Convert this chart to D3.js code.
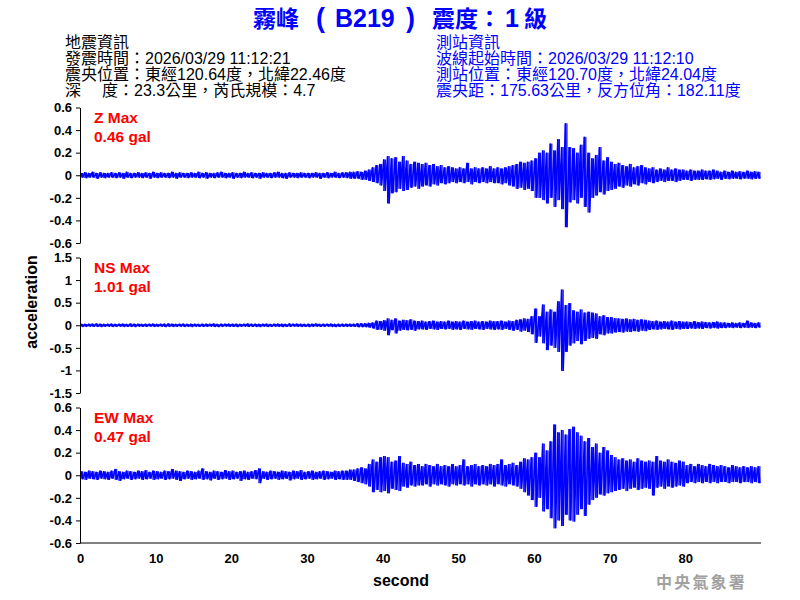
<!DOCTYPE html>
<html><head><meta charset="utf-8">
<script src="https://cdn.jsdelivr.net/npm/d3@7"></script>
<style>body{margin:0;background:#fff}svg{display:block}</style>
</head><body>
<svg id="c" width="800" height="600"></svg>
<script>
// ---------------- DATA ----------------
const binSeconds = 0.5;          // each value = peak in a 0.5 s window
const xTicks = [0,10,20,30,40,50,60,70,80];
const xDomain = [0,90];
const channels = ["Z","NS","EW"];
const maxLabels = ["0.46 gal","1.01 gal","0.47 gal"];
const yLimits = [0.6,1.5,0.6];
const zTicks = [0.6,0.4,0.2,0,-0.2,-0.4,-0.6];
const nsTicks = [1.5,1,0.5,0,-0.5,-1,-1.5];
const ewTicks = [0.6,0.4,0.2,0,-0.2,-0.4,-0.6];

const zHi = [
0.02,0.025,0.02,0.03,0.02,0.025,0.02,0.02,0.025,0.02,
0.025,0.02,0.03,0.02,0.02,0.025,0.02,0.025,0.02,0.03,
0.02,0.025,0.02,0.02,0.03,0.02,0.025,0.02,0.02,0.025,
0.02,0.03,0.02,0.025,0.02,0.02,0.025,0.03,0.02,0.02,
0.025,0.02,0.02,0.03,0.02,0.025,0.02,0.02,0.025,0.02,
0.02,0.025,0.03,0.02,0.02,0.025,0.02,0.02,0.025,0.02,
0.02,0.02,0.025,0.02,0.02,0.025,0.02,0.03,0.02,0.025,
0.025,0.03,0.03,0.035,0.03,0.04,0.05,0.07,0.09,0.1,
0.14,0.17,0.15,0.16,0.12,0.17,0.13,0.1,0.12,0.11,
0.1,0.11,0.09,0.1,0.08,0.09,0.07,0.08,0.07,0.06,
0.07,0.06,0.11,0.06,0.07,0.06,0.07,0.06,0.08,0.06,
0.07,0.06,0.07,0.08,0.09,0.1,0.12,0.11,0.12,0.13,
0.15,0.2,0.22,0.2,0.28,0.22,0.32,0.25,0.46,0.25,
0.24,0.2,0.27,0.34,0.2,0.15,0.18,0.25,0.13,0.16,
0.12,0.1,0.11,0.09,0.08,0.1,0.07,0.08,0.09,0.07,
0.06,0.07,0.05,0.06,0.05,0.07,0.05,0.06,0.05,0.05,
0.04,0.05,0.04,0.04,0.05,0.04,0.04,0.05,0.04,0.03,
0.04,0.03,0.04,0.03,0.035,0.03,0.04,0.03,0.035,0.03];
const zLo = [
-0.02,-0.025,-0.02,-0.02,-0.03,-0.02,-0.025,-0.02,-0.02,-0.025,
-0.02,-0.03,-0.02,-0.025,-0.02,-0.02,-0.025,-0.02,-0.03,-0.02,
-0.025,-0.02,-0.02,-0.025,-0.02,-0.03,-0.02,-0.02,-0.025,-0.02,
-0.02,-0.025,-0.02,-0.03,-0.02,-0.025,-0.02,-0.02,-0.025,-0.02,
-0.03,-0.02,-0.025,-0.02,-0.02,-0.025,-0.02,-0.03,-0.02,-0.02,
-0.025,-0.02,-0.02,-0.025,-0.03,-0.02,-0.02,-0.025,-0.02,-0.02,
-0.025,-0.02,-0.02,-0.03,-0.02,-0.025,-0.02,-0.02,-0.025,-0.02,
-0.025,-0.03,-0.03,-0.03,-0.04,-0.04,-0.05,-0.06,-0.07,-0.09,
-0.14,-0.25,-0.16,-0.15,-0.12,-0.14,-0.13,-0.11,-0.1,-0.12,
-0.1,-0.09,-0.1,-0.08,-0.09,-0.07,-0.08,-0.07,-0.06,-0.07,
-0.06,-0.07,-0.06,-0.08,-0.06,-0.07,-0.06,-0.07,-0.06,-0.07,
-0.07,-0.08,-0.07,-0.09,-0.1,-0.12,-0.11,-0.13,-0.12,-0.14,
-0.2,-0.2,-0.22,-0.25,-0.2,-0.28,-0.22,-0.3,-0.46,-0.24,
-0.22,-0.25,-0.2,-0.28,-0.33,-0.2,-0.18,-0.15,-0.17,-0.14,
-0.13,-0.12,-0.1,-0.11,-0.09,-0.1,-0.08,-0.09,-0.07,-0.08,
-0.06,-0.07,-0.06,-0.05,-0.06,-0.05,-0.05,-0.06,-0.05,-0.04,
-0.04,-0.05,-0.04,-0.04,-0.04,-0.035,-0.04,-0.035,-0.03,-0.04,
-0.03,-0.035,-0.03,-0.03,-0.035,-0.03,-0.03,-0.035,-0.03,-0.03];

const nsHi = [
0.03,0.025,0.03,0.03,0.035,0.03,0.025,0.03,0.03,0.025,
0.03,0.03,0.025,0.035,0.03,0.03,0.025,0.03,0.03,0.03,
0.025,0.03,0.03,0.035,0.03,0.025,0.03,0.03,0.025,0.03,
0.03,0.025,0.03,0.03,0.03,0.035,0.025,0.03,0.03,0.03,
0.03,0.03,0.025,0.03,0.035,0.03,0.03,0.025,0.03,0.03,
0.025,0.03,0.03,0.03,0.025,0.035,0.03,0.03,0.03,0.025,
0.03,0.03,0.035,0.025,0.03,0.03,0.03,0.025,0.03,0.03,
0.03,0.03,0.03,0.04,0.04,0.04,0.05,0.06,0.1,0.09,
0.11,0.15,0.12,0.15,0.1,0.12,0.11,0.13,0.1,0.09,
0.1,0.08,0.09,0.1,0.08,0.09,0.08,0.1,0.08,0.09,
0.08,0.1,0.08,0.09,0.1,0.08,0.09,0.08,0.1,0.09,
0.09,0.1,0.08,0.1,0.09,0.12,0.13,0.15,0.14,0.2,
0.37,0.2,0.46,0.3,0.35,0.3,0.53,0.79,0.45,0.49,
0.33,0.3,0.35,0.28,0.3,0.28,0.26,0.2,0.22,0.18,
0.18,0.16,0.15,0.14,0.15,0.13,0.14,0.12,0.13,0.12,
0.1,0.09,0.1,0.08,0.09,0.08,0.1,0.08,0.09,0.08,
0.08,0.07,0.09,0.07,0.08,0.07,0.06,0.07,0.08,0.06,
0.06,0.05,0.06,0.05,0.06,0.05,0.1,0.06,0.05,0.06];
const nsLo = [
-0.03,-0.03,-0.025,-0.03,-0.03,-0.035,-0.03,-0.025,-0.03,-0.03,
-0.025,-0.03,-0.03,-0.03,-0.035,-0.025,-0.03,-0.03,-0.025,-0.03,
-0.03,-0.025,-0.035,-0.03,-0.03,-0.03,-0.025,-0.03,-0.03,-0.035,
-0.025,-0.03,-0.03,-0.03,-0.025,-0.03,-0.035,-0.03,-0.025,-0.03,
-0.03,-0.035,-0.03,-0.025,-0.03,-0.03,-0.03,-0.035,-0.025,-0.03,
-0.03,-0.025,-0.03,-0.035,-0.03,-0.03,-0.025,-0.03,-0.03,-0.03,
-0.035,-0.03,-0.025,-0.03,-0.03,-0.025,-0.03,-0.035,-0.03,-0.03,
-0.03,-0.03,-0.03,-0.04,-0.04,-0.04,-0.05,-0.07,-0.1,-0.1,
-0.12,-0.22,-0.11,-0.18,-0.12,-0.1,-0.11,-0.1,-0.12,-0.09,
-0.09,-0.1,-0.08,-0.09,-0.1,-0.08,-0.09,-0.08,-0.1,-0.09,
-0.1,-0.08,-0.09,-0.1,-0.08,-0.09,-0.1,-0.08,-0.09,-0.1,
-0.09,-0.1,-0.08,-0.1,-0.12,-0.1,-0.14,-0.12,-0.15,-0.2,
-0.39,-0.25,-0.4,-0.55,-0.45,-0.5,-0.59,-1.01,-0.59,-0.45,
-0.4,-0.35,-0.42,-0.35,-0.3,-0.28,-0.3,-0.2,-0.22,-0.18,
-0.18,-0.16,-0.15,-0.16,-0.14,-0.15,-0.13,-0.14,-0.12,-0.13,
-0.1,-0.09,-0.1,-0.09,-0.08,-0.09,-0.1,-0.08,-0.09,-0.08,
-0.08,-0.07,-0.08,-0.07,-0.08,-0.06,-0.07,-0.06,-0.07,-0.06,
-0.06,-0.05,-0.06,-0.05,-0.06,-0.05,-0.06,-0.05,-0.06,-0.05];

const ewHi = [
0.035,0.03,0.04,0.035,0.03,0.04,0.035,0.03,0.04,0.055,
0.035,0.03,0.04,0.035,0.03,0.04,0.035,0.045,0.03,0.04,
0.035,0.03,0.04,0.035,0.055,0.04,0.035,0.03,0.04,0.035,
0.03,0.04,0.06,0.035,0.03,0.04,0.035,0.03,0.045,0.035,
0.04,0.03,0.035,0.04,0.03,0.035,0.045,0.06,0.035,0.03,
0.04,0.035,0.03,0.04,0.035,0.03,0.04,0.035,0.045,0.03,
0.035,0.04,0.03,0.035,0.04,0.035,0.03,0.04,0.035,0.04,
0.04,0.05,0.05,0.06,0.07,0.06,0.1,0.14,0.12,0.16,
0.17,0.16,0.12,0.13,0.17,0.11,0.1,0.12,0.09,0.1,
0.08,0.1,0.09,0.08,0.1,0.08,0.09,0.08,0.1,0.08,
0.09,0.14,0.08,0.09,0.1,0.08,0.09,0.08,0.1,0.09,
0.1,0.14,0.09,0.1,0.11,0.09,0.12,0.15,0.14,0.16,
0.2,0.16,0.28,0.22,0.3,0.45,0.38,0.4,0.36,0.41,
0.43,0.38,0.35,0.3,0.33,0.25,0.28,0.2,0.25,0.22,
0.18,0.16,0.14,0.15,0.13,0.14,0.12,0.15,0.13,0.12,
0.13,0.12,0.17,0.13,0.12,0.14,0.12,0.11,0.13,0.12,
0.09,0.1,0.08,0.1,0.09,0.08,0.1,0.09,0.08,0.09,
0.08,0.07,0.09,0.08,0.07,0.08,0.07,0.08,0.07,0.08];
const ewLo = [
-0.035,-0.04,-0.03,-0.035,-0.04,-0.03,-0.035,-0.04,-0.03,-0.04,
-0.05,-0.035,-0.03,-0.04,-0.035,-0.03,-0.04,-0.035,-0.03,-0.04,
-0.035,-0.03,-0.04,-0.035,-0.03,-0.04,-0.05,-0.035,-0.03,-0.04,
-0.035,-0.03,-0.04,-0.035,-0.045,-0.03,-0.04,-0.035,-0.03,-0.04,
-0.035,-0.03,-0.05,-0.035,-0.04,-0.03,-0.035,-0.07,-0.03,-0.04,
-0.035,-0.03,-0.04,-0.035,-0.03,-0.045,-0.035,-0.03,-0.04,-0.035,
-0.03,-0.04,-0.035,-0.03,-0.04,-0.035,-0.03,-0.04,-0.035,-0.04,
-0.04,-0.04,-0.05,-0.06,-0.07,-0.08,-0.1,-0.15,-0.13,-0.15,
-0.14,-0.16,-0.12,-0.13,-0.14,-0.1,-0.11,-0.09,-0.1,-0.09,
-0.09,-0.08,-0.1,-0.08,-0.09,-0.08,-0.09,-0.1,-0.08,-0.09,
-0.08,-0.09,-0.08,-0.1,-0.08,-0.09,-0.08,-0.09,-0.08,-0.1,
-0.08,-0.09,-0.1,-0.08,-0.09,-0.1,-0.12,-0.15,-0.18,-0.22,
-0.28,-0.2,-0.32,-0.3,-0.38,-0.47,-0.4,-0.45,-0.35,-0.4,
-0.41,-0.35,-0.3,-0.36,-0.26,-0.22,-0.2,-0.17,-0.18,-0.16,
-0.15,-0.14,-0.13,-0.12,-0.14,-0.12,-0.11,-0.13,-0.12,-0.11,
-0.12,-0.18,-0.11,-0.1,-0.12,-0.1,-0.11,-0.1,-0.09,-0.1,
-0.07,-0.06,-0.07,-0.06,-0.07,-0.06,-0.07,-0.06,-0.07,-0.06,
-0.06,-0.07,-0.06,-0.06,-0.07,-0.06,-0.06,-0.07,-0.06,-0.07];

const titleParts = ["霧峰","(","B219",")","震度：","1","級"];
const leftInfo = ["地震資訊","發震時間：2026/03/29 11:12:21","震央位置：東經120.64度，北緯22.46度","深","度：23.3公里，芮氏規模：4.7"];
const rightInfo = ["測站資訊","波線起始時間：2026/03/29 11:12:10","測站位置：東經120.70度，北緯24.04度","震央距：175.63公里，反方位角：182.11度"];
const yLabel = "acceleration";
const xLabel = "second";
const agency = "中央氣象署";

// ---------------- DRAW ----------------
const svg = d3.select("#c");
const LAT = "'Liberation Sans', Arial, 'Noto Sans CJK TC', sans-serif";
const CJK = "'Noto Sans CJK TC', sans-serif";
const BLUE = "#0000ff", RED = "#ff0000";

// title pieces: [x, anchor, cjk?, size]
const titleLayout = [[253,"start",true,23],[320.5,"middle",false,27],[335,"start",false,25],[410.5,"middle",false,27],
                     [432,"start",true,23],[505,"start",false,25],[524,"start",true,23]];
titleParts.forEach((p,i) => {
  const [tx, anc, cjk, fs] = titleLayout[i];
  svg.append("text").attr("x", tx).attr("y", 27).attr("text-anchor", anc)
    .attr("fill", BLUE).attr("font-weight", "bold")
    .attr("font-family", cjk ? CJK : LAT)
    .attr("font-size", fs)
    .text(p);
});

// header info
const lineY = [48, 64, 80, 95.5];
const lg = svg.append("g").attr("font-family", LAT).attr("font-size", 16).attr("fill", "#000");
lg.append("text").attr("x", 65).attr("y", lineY[0]).text(leftInfo[0]);
lg.append("text").attr("x", 65).attr("y", lineY[1]).text(leftInfo[1]);
lg.append("text").attr("x", 65).attr("y", lineY[2]).text(leftInfo[2]);
lg.append("text").attr("x", 65).attr("y", lineY[3]).text(leftInfo[3]);
lg.append("text").attr("x", 102).attr("y", lineY[3]).text(leftInfo[4]);
const rg = svg.append("g").attr("font-family", LAT).attr("font-size", 16).attr("fill", BLUE);
rightInfo.forEach((t,i) => rg.append("text").attr("x", 436).attr("y", lineY[i]).text(t));

// panels
const x = d3.scaleLinear().domain(xDomain).range([80, 761]);
const tops = [107.5, 257.5, 407.5], bottoms = [243, 393, 543];
const his = [zHi, nsHi, ewHi], los = [zLo, nsLo, ewLo];
const tickSets = [zTicks, nsTicks, ewTicks];

channels.forEach((ch, k) => {
  const y = d3.scaleLinear().domain([-yLimits[k], yLimits[k]]).range([bottoms[k], tops[k]]);
  const bins = his[k].map((h, i) => ({t: i*binSeconds, hi: h, lo: los[k][i]}));
  // trace: within each window go up to its peak, then down to its trough
  const pts = [];
  bins.forEach(b => { pts.push([b.t + binSeconds*0.3, b.hi]); pts.push([b.t + binSeconds*0.7, b.lo]); });
  const line = d3.line().x(d => x(d[0])).y(d => y(d[1]));
  svg.append("path").datum(pts).attr("d", line)
    .attr("fill", "none").attr("stroke", BLUE).attr("stroke-width", 1.6).attr("stroke-linejoin", "miter").attr("stroke-miterlimit", 1);
  // peak-to-trough bars of each window
  [0.3, 0.7].forEach(off => {
    svg.append("g").selectAll("rect").data(bins).join("rect")
      .attr("x", d => x(d.t + binSeconds*off) - 0.6)
      .attr("width", 1.2)
      .attr("y", d => y(d.hi))
      .attr("height", d => y(d.lo) - y(d.hi))
      .attr("fill", BLUE);
  });

  const ax = svg.append("g").attr("transform", "translate(80,0)")
    .call(d3.axisLeft(y).tickValues(tickSets[k]).tickSize(4).tickSizeOuter(0).tickPadding(4).tickFormat(d => String(d)));
  ax.selectAll("text").attr("font-family", LAT).attr("font-size", 13).attr("font-weight", "bold").attr("fill", "#000");
  ax.selectAll("line,path").attr("stroke", "#000");

  const lbl = svg.append("g").attr("font-family", LAT).attr("font-size", 15.5).attr("font-weight", "bold").attr("fill", RED);
  lbl.append("text").attr("x", 94).attr("y", tops[k] + 15.5).text(ch + " Max");
  lbl.append("text").attr("x", 94).attr("y", tops[k] + 34.5).text(maxLabels[k]);
});

// x axis
const xa = svg.append("g").attr("transform", "translate(0,543)")
  .call(d3.axisBottom(x).tickValues(xTicks).tickSize(0).tickSizeOuter(0).tickPadding(11).tickFormat(d => String(d)));
xa.select(".domain").attr("d", `M${x(xDomain[0])},0H${x(xDomain[1])}`);
xa.selectAll("text").attr("font-family", LAT).attr("font-size", 13).attr("font-weight", "bold").attr("fill", "#000");
xa.selectAll("line,path").attr("stroke", "#000");

svg.append("text").attr("x", 401).attr("y", 586).attr("text-anchor", "middle")
  .attr("font-family", LAT).attr("font-size", 16).attr("font-weight", "bold").text(xLabel);
svg.append("text").attr("transform", "translate(37,302) rotate(-90)").attr("text-anchor", "middle")
  .attr("font-family", LAT).attr("font-size", 16).attr("font-weight", "bold").text(yLabel);

svg.append("text").attr("x", 656).attr("y", 588)
  .attr("font-family", CJK).attr("font-size", 16).attr("letter-spacing", 2.2)
  .attr("font-weight", "bold").attr("fill", "#a0a0a0").text(agency);
</script>
</body></html>
